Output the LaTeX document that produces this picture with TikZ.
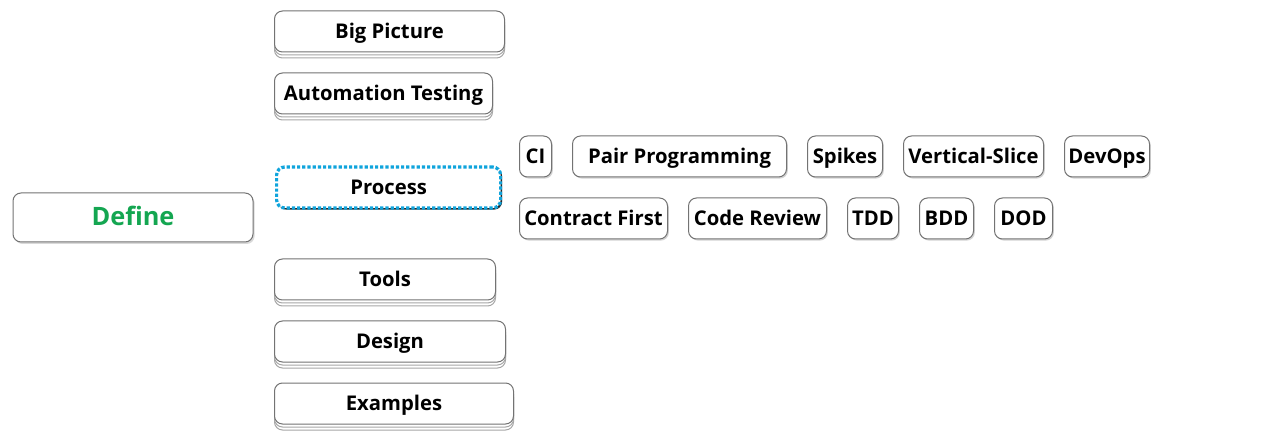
\documentclass[tikz,border=0pt]{standalone}
\usepackage{fontspec}
\setmainfont{Open Sans}
\usetikzlibrary{shadows}
\definecolor{definegreen}{HTML}{14A651}
\definecolor{procblue}{HTML}{10A4DC}
\begin{document}
\begin{tikzpicture}[x=0.75pt,y=-0.75pt,
    card/.style={draw=black!55, line width=0.75pt, fill=white, rounded corners=6pt,
        font=\bfseries\fontsize{15.2}{18}\selectfont, text height=10pt, text depth=0pt,
        inner xsep=2pt, minimum height=30.75pt},
    topic/.style={card, anchor=west,
        general shadow={shadow yshift=-4.5pt, draw=black!35, fill=white},
        general shadow={shadow yshift=-2.25pt, draw=black!35, fill=white}},
    leaf/.style={card, anchor=west, drop shadow={shadow xshift=1pt, shadow yshift=-1.2pt, opacity=.35}}]
\useasboundingbox (0,0) rectangle (1280,441);
\node[card, minimum width=180pt, minimum height=36.75pt, text=definegreen,
    font=\bfseries\fontsize{19}{22}\selectfont, text height=12.6pt,
    drop shadow={shadow xshift=1.2pt, shadow yshift=-1.5pt, opacity=.3}] (define) at (133,217.5) {Define};
\foreach \name/\txt/\y/\w in {bigpicture/Big Picture/31.5/230, automation/Automation Testing/93.5/218,
    tools/Tools/279.5/221, design/Design/341.5/231, examples/Examples/403.5/239}
    \node[topic, minimum width=\w*0.75pt] (\name) at (274,\y) {\txt};
\node[card, anchor=west, draw=procblue, line width=2.4pt, dash pattern=on 2.4pt off 1.5pt,
    minimum width=168pt, minimum height=30.75pt,
    drop shadow={shadow xshift=1.2pt, shadow yshift=-1.2pt, opacity=.85, fill=black}] (process) at (275,187.5) {Process};
\foreach \name/\txt/\x/\w in {ci/CI/519/32, pair/Pair Programming/572/214, spikes/Spikes/807/75,
    vslice/Vertical-Slice/903/140, devops/DevOps/1064/85}
    \node[leaf, minimum width=\w*0.75pt] (\name) at (\x,156.5) {\txt};
\foreach \name/\txt/\x/\w in {contract/Contract First/519/148, review/Code Review/688/138,
    tdd/TDD/847/51, bdd/BDD/919/54, dod/DOD/994/58}
    \node[leaf, minimum width=\w*0.75pt] (\name) at (\x,218.5) {\txt};
\end{tikzpicture}
\end{document}
